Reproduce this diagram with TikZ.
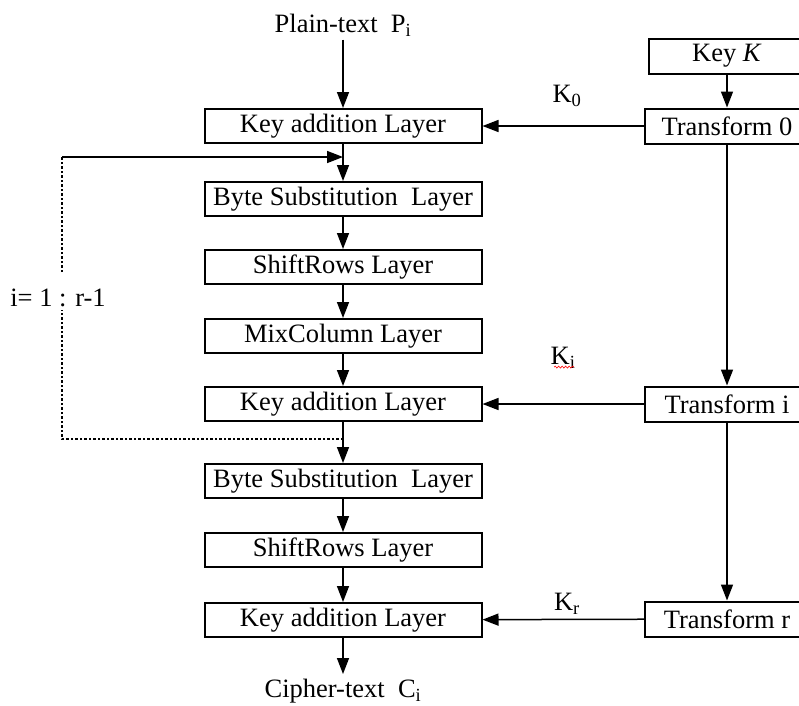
\documentclass[tikz,border=0pt]{standalone}
\usepackage{fontspec}
\setmainfont{Liberation Serif}
\usetikzlibrary{arrows.meta,decorations.pathmorphing}

\tikzset{
  layer/.style={draw, line width=2pt, minimum width=277pt, minimum height=34pt, inner sep=0pt},
  keybox/.style={draw, line width=2pt, minimum width=164pt, minimum height=35pt, inner sep=0pt},
  arr/.style={line width=1.5pt, -{Triangle[length=16pt,width=12pt]}},
  loopline/.style={line width=2.5pt, dash pattern=on 2.5pt off 2pt}
}

\begin{document}
\begin{tikzpicture}[x=1pt, y=-1pt, font=\fontsize{26.5}{30}\selectfont]
        \useasboundingbox (0,0) rectangle (799,705);
        % left column
        \node (pt) at (343,25) {Plain-text\ \ P\textsubscript{i}};
        \node[layer] (ka1) at (343,126) {Key addition Layer};
        \node[layer] (bs1) at (343,199) {Byte Substitution\ \ Layer};
        \node[layer] (sr1) at (343,267) {ShiftRows Layer};
        \node[layer] (mc1) at (343,336) {MixColumn Layer};
        \node[layer] (ka2) at (343,404) {Key addition Layer};
        \node[layer] (bs2) at (343,481) {Byte Substitution\ \ Layer};
        \node[layer] (sr2) at (343,550) {ShiftRows Layer};
        \node[layer] (ka3) at (343,620) {Key addition Layer};
        \node (ct) at (343,691) {Cipher-text\ \ C\textsubscript{i}};
        % right column
        \node[keybox, minimum width=156pt] (key) at (727,56) {Key \textit{K}};
        \node[keybox] (t0) at (727,126) {Transform 0};
        \node[keybox] (ti) at (727,404) {Transform i};
        \node[keybox] (tr) at (727,619) {Transform r};
        \node (k0) at (567,96) {K\textsubscript{0}};
        \node (ki) at (563,358) {K\textsubscript{i}};
        \node (kr) at (567,604) {K\textsubscript{r}};
        \draw[red, line width=0.6pt, decorate, decoration={snake, amplitude=1pt, segment length=3.5pt}]
          (ki.south west) ++(7,-5) -- ++(20,0);
        % loop
        \node (rng) at (58,298) {i= 1 : r-1};
        \coordinate (lpA) at (62,157);
        \coordinate (lpB) at (62,439);

        \draw[arr] (pt) -- (ka1);
        \draw[arr] (ka1) -- (bs1);
        \draw[arr] (bs1) -- (sr1);
        \draw[arr] (sr1) -- (mc1);
        \draw[arr] (mc1) -- (ka2);
        \draw[arr] (ka2) -- (bs2);
        \draw[arr] (bs2) -- (sr2);
        \draw[arr] (sr2) -- (ka3);
        \draw[arr] (ka3.south) -- ++(0,36);

        \draw[arr] (key) -- (t0);
        \draw[arr] (t0) -- (ti);
        \draw[arr] (ti) -- (tr);
        \draw[arr] (t0) -- (ka1);
        \draw[arr] (ti) -- (ka2);
        \draw[arr] (tr) -- (ka3);

        \draw[loopline] (ka2.south |- lpB) -- (lpB) -- (lpB |- 0,310);
        \draw[loopline] (lpA |- 0,272) -- (lpA);
        \draw[arr] (lpA) -- (lpA -| ka1.south);
      \end{tikzpicture}
\end{document}
